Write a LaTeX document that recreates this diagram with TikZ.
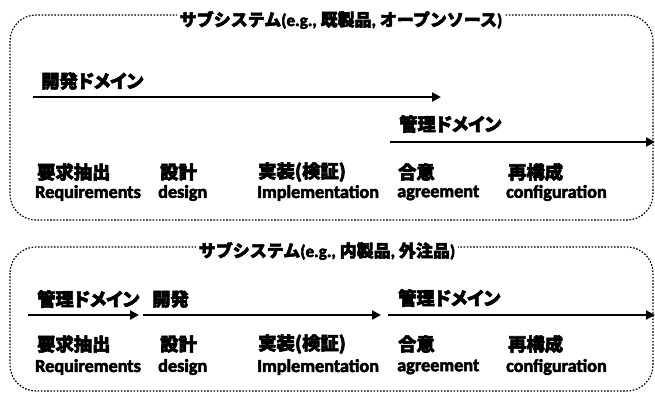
\documentclass[tikz,border=0pt]{standalone}
\usepackage{fontspec}
\setmainfont{Carlito}
\newfontfamily\enf{Carlito}[FakeBold=2.8]
\newfontfamily\jpf{Noto Sans CJK JP}[FakeBold=3]
\newfontfamily\jpp{Noto Sans CJK JP}[FakeBold=3,CharacterWidth=AlternateProportional]
\usetikzlibrary{arrows.meta}
\begin{document}
\begin{tikzpicture}[x=1pt,y=-1pt,
  frame/.style={line width=1.2pt,dash pattern=on 1.6pt off 1.6pt,rounded corners=26pt},
  ttl/.style={fill=white,inner sep=3pt,font=\enf\bfseries\fontsize{17}{19}\selectfont},
  jp/.style={anchor=west,inner sep=0pt,font=\jpf\bfseries\fontsize{18.3}{20}\selectfont},
  dom/.style={anchor=west,inner sep=0pt,font=\jpp\bfseries\fontsize{18.3}{20}\selectfont},
  en/.style={anchor=west,inner sep=0pt,font=\enf\bfseries\fontsize{18.2}{20}\selectfont},
  flow/.style={line width=2.6pt,-{Triangle[length=9pt,width=9pt]}}]
\useasboundingbox (0,0) rectangle (655,394);
% top box
\draw[frame] (10,15) rectangle (653,220);
\node[ttl] (t1) at (341,20) {{\jpf サブシステム}(e.g., {\jpf 既製品}, {\jpf オープンソース})};
\node[dom] (l1) at (41,81) {開発ドメイン};
\coordinate (a1s) at (33,97); \coordinate (a1e) at (441,97);
\draw[flow] (a1s) -- (a1e);
\node[dom] (l2) at (399,124) {管理ドメイン};
\coordinate (a2s) at (390,142); \coordinate (a2e) at (655,142);
\draw[flow] (a2s) -- (a2e);
\node[jp] (j1) at (37,172) {要求抽出};
\node[en] (e1) at (35,193) {Requirements};
\node[jp] (j2) at (160,172) {設計};
\node[en] (e2) at (158,193) {design};
\node[jp] (j3) at (258,172) {実装(検証)};
\node[en] (e3) at (257,193) {Implementation};
\node[jp] (j4) at (398,172) {合意};
\node[en] (e4) at (397,193) {agreement};
\node[jp] (j5) at (508,172) {再構成};
\node[en] (e5) at (506,193) {configuration};
% bottom box
\draw[frame] (10,247) rectangle (653,391);
\node[ttl] (t2) at (327,251) {{\jpf サブシステム}(e.g., {\jpf 内製品}, {\jpf 外注品})};
\node[dom] (m1) at (37,299) {管理ドメイン};
\node[dom] (m2) at (152,299) {開発};
\node[dom] (m3) at (398,298) {管理ドメイン};
\coordinate (b1s) at (28,315); \coordinate (b1e) at (139,315);
\coordinate (b2s) at (143,315); \coordinate (b2e) at (381,315);
\coordinate (b3s) at (388,315); \coordinate (b3e) at (655,315);
\draw[flow] (b1s) -- (b1e);
\draw[flow] (b2s) -- (b2e);
\draw[flow] (b3s) -- (b3e);
\node[jp] (k1) at (37,344) {要求抽出};
\node[en] (f1) at (35,367) {Requirements};
\node[jp] (k2) at (160,344) {設計};
\node[en] (f2) at (158,367) {design};
\node[jp] (k3) at (258,344) {実装(検証)};
\node[en] (f3) at (257,367) {Implementation};
\node[jp] (k4) at (398,344) {合意};
\node[en] (f4) at (397,367) {agreement};
\node[jp] (k5) at (508,344) {再構成};
\node[en] (f5) at (506,367) {configuration};
\end{tikzpicture}
\end{document}
